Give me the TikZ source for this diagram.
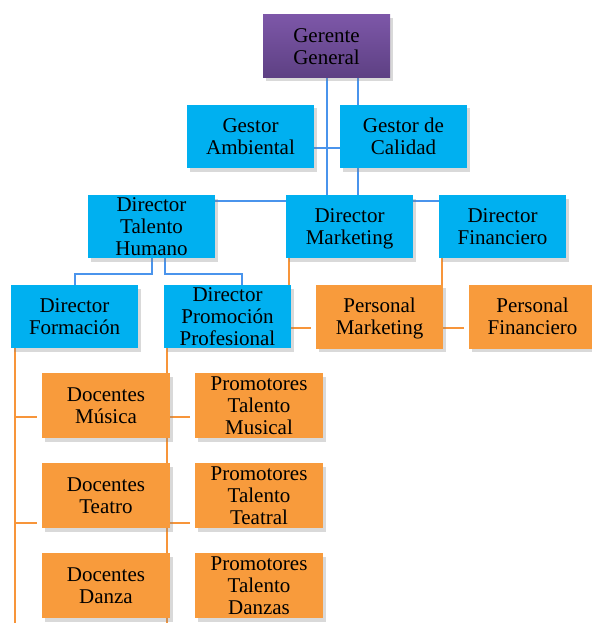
\documentclass[tikz,border=0pt]{standalone}
\usepackage{fontspec}
\setmainfont{Liberation Serif}
\usetikzlibrary{shadows, calc, backgrounds}
\definecolor{cyanbox}{HTML}{00B0F0}
\definecolor{orangebox}{HTML}{F89B3C}
\definecolor{purpletop}{HTML}{7D57A8}
\definecolor{purplebot}{HTML}{5D4083}
\definecolor{blueline}{HTML}{4A94EC}
\definecolor{orangeline}{HTML}{F7953A}

\begin{document}
\begin{tikzpicture}
  [x=1pt, y=-1pt,
   org box/.style={rectangle, minimum width=127pt, minimum height=63pt, inner sep=0pt, align=center,
     font=\fontsize{21}{22}\selectfont, text depth=0pt,
     drop shadow={shadow xshift=2.5pt, shadow yshift=-3.5pt, opacity=0.3}},
   blue box/.style={org box, fill=cyanbox},
   orange box/.style={org box, fill=orangebox, minimum width=128pt, minimum height=65pt},
   blue line/.style={draw=blueline, line width=2pt},
   orange line/.style={draw=orangeline, line width=2pt, shorten >=5pt}]

  \useasboundingbox (0,0) rectangle (591,623);

  \node [org box, top color=purpletop, bottom color=purplebot] (gerente) at (326.5,46.5) {Gerente\\General};
  \node [blue box] (ambiental) at (250.5,136.5) {Gestor\\Ambiental};
  \node [blue box] (calidad) at (403.5,136.5) {Gestor de\\Calidad};

  \node [blue box] (talento) at (151.5,226.5) {Director\\Talento\\Humano};
  \node [blue box] (marketing) at (349.5,226.5) {Director\\Marketing};
  \node [blue box] (financiero) at (502.5,226.5) {Director\\Financiero};

  \node [blue box] (formacion) at (74.5,316.5) {Director\\Formación};
  \node [blue box] (promocion) at (227.5,316.5) {Director\\Promoción\\Profesional};
  \node [orange box, minimum width=127pt, minimum height=64pt] (pmarketing) at (379.5,316.5) {Personal\\Marketing};
  \node [orange box, minimum width=127pt, minimum height=64pt] (pfinanciero) at (532.5,316.5) {Personal\\Financiero};

  \node [orange box] (musica) at (106,405.5) {Docentes\\Música};
  \node [orange box] (pmusical) at (259,405.5) {Promotores\\Talento\\Musical};
  \node [orange box] (teatro) at (106,495.5) {Docentes\\Teatro};
  \node [orange box] (pteatral) at (259,495.5) {Promotores\\Talento\\Teatral};
  \node [orange box] (danza) at (106,585.5) {Docentes\\Danza};
  \node [orange box] (pdanzas) at (259,585.5) {Promotores\\Talento\\Danzas};

  \begin{scope}[on background layer]
    % gerencia
    \draw [blue line] (gerente.south) -- (gerente.south |- marketing.north);
    \draw [blue line] ([xshift=31pt]gerente.south) -- ([xshift=31pt]gerente.south |- marketing.north);
    \draw [blue line] ([yshift=-11.5pt]ambiental.east) -- ([yshift=-11.5pt]calidad.west);
    \draw [blue line] ([yshift=26pt]talento.east) -- ([yshift=26pt]financiero.west);
    % talento humano
    \draw [blue line] (talento.south) -- ++(0,16) -| (formacion.north);
    \draw [blue line] ([xshift=13.5pt]talento.south) -- ++(0,16) -| ([xshift=14.5pt]promocion.north);
    % personal
    \draw [orange line] ([xshift=3pt]marketing.south west) |- ([yshift=-11pt]pmarketing.west);
    \draw [orange line] ([xshift=3pt]financiero.south west) |- ([yshift=-11pt]pfinanciero.west);
    % docentes
    \coordinate (formacion end) at ([xshift=4pt]formacion.south west |- 0,640);
    \draw [blue line, draw=orangeline] ([xshift=4pt]formacion.south west) -- (formacion end);
    \draw [orange line] ([xshift=4pt]formacion.south west) |- ([yshift=-11.5pt]musica.west);
    \draw [orange line] ([xshift=4pt]formacion.south west) |- ([yshift=-27.5pt]teatro.west);
    % promotores
    \coordinate (promocion end) at ([xshift=3pt]promocion.south west |- 0,640);
    \draw [blue line, draw=orangeline] ([xshift=3pt]promocion.south west) -- (promocion end);
    \draw [orange line] ([xshift=3pt]promocion.south west) |- ([yshift=-11.5pt]pmusical.west);
    \draw [orange line] ([xshift=3pt]promocion.south west) |- ([yshift=-27.5pt]pteatral.west);
  \end{scope}

\end{tikzpicture}
\end{document}
